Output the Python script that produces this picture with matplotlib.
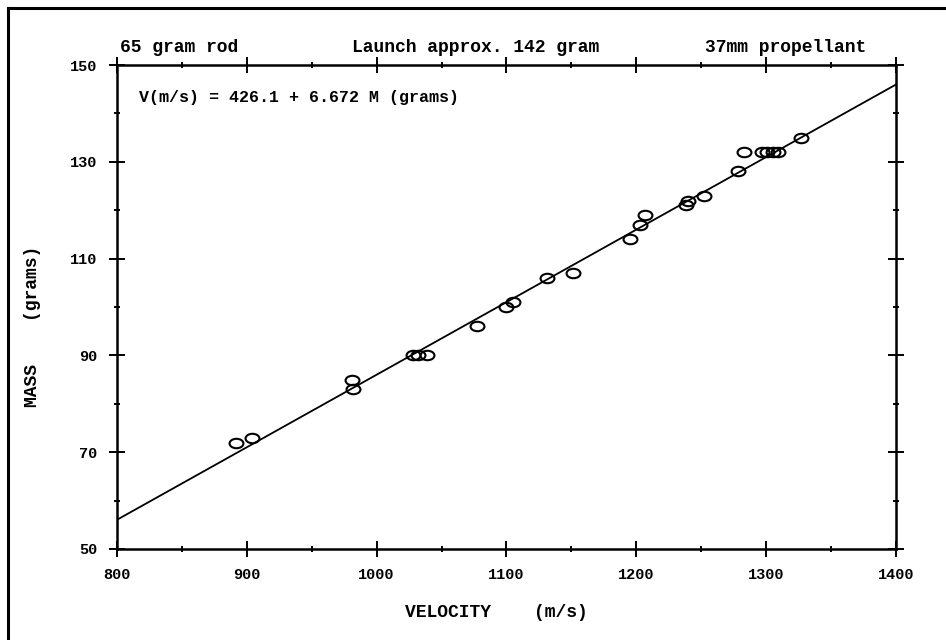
import numpy as np
import matplotlib.pyplot as plt
from matplotlib.path import Path
from matplotlib.transforms import Affine2D
from matplotlib.lines import Line2D
from matplotlib.ticker import MultipleLocator

# measured shots: velocity (m/s) and rod mass (grams)
velocity = [892, 904, 981, 982, 1028, 1032, 1039, 1077, 1100, 1105, 1131, 1151,
            1195, 1203, 1207, 1238, 1240, 1252, 1278, 1283, 1297, 1301, 1305, 1309, 1327]
mass = [72, 73, 85, 83, 90, 90, 90, 96, 100, 101, 106, 107,
        114, 117, 119, 121, 122, 123, 128, 132, 132, 132, 132, 132, 135]

# fit: V = a + b * M
fit_a = 426.1
fit_b = 6.672
fit_v = [800, 1400]

x_ticks = [800, 900, 1000, 1100, 1200, 1300, 1400]
y_ticks = [50, 70, 90, 110, 130, 150]

FONT = "Liberation Mono"

fig = plt.figure(figsize=(9.46, 6.40), dpi=100)
ax = fig.add_axes([0.1237, 0.1422, 0.8234, 0.7562])

# oval open markers like the plotter output
oval = Path.unit_circle().transformed(Affine2D().scale(1.0, 0.68))
ax.plot(velocity, mass, linestyle="none", marker=oval, markersize=10,
        markerfacecolor="none", markeredgecolor="black", markeredgewidth=1.5)

fit_m = [(v - fit_a) / fit_b for v in fit_v]
ax.plot(fit_v, fit_m, color="black", linewidth=1.3)

ax.set_xlim(800, 1400)
ax.set_ylim(50, 150)
ax.set_xticks(x_ticks)
ax.set_yticks(y_ticks)
ax.xaxis.set_minor_locator(MultipleLocator(50))
ax.yaxis.set_minor_locator(MultipleLocator(10))
ax.tick_params(which="major", direction="inout", length=12, width=1.4,
               top=True, right=True, labelsize=11, pad=8)
ax.tick_params(which="minor", direction="inout", length=5, width=1.4,
               top=True, right=True)
for lab in ax.get_xticklabels() + ax.get_yticklabels():
    lab.set_fontfamily(FONT)
    lab.set_fontweight("bold")
for sp in ax.spines.values():
    sp.set_linewidth(1.8)

ax.set_xlabel("VELOCITY    (m/s)", fontsize=13, fontfamily=FONT, fontweight="bold")
ax.set_ylabel("MASS    (grams)", fontsize=13, fontfamily=FONT, fontweight="bold")
ax.xaxis.set_label_coords(0.4865, -0.113)
ax.yaxis.set_label_coords(-0.097, 0.461)

# header line above the plot
hdr = dict(fontsize=13, fontfamily=FONT, fontweight="bold", ha="center", va="center")
fig.text(179 / 946, 1 - 48 / 640, "65 gram rod", **hdr)
fig.text(476 / 946, 1 - 48 / 640, "Launch approx. 142 gram", **hdr)
fig.text(786 / 946, 1 - 48 / 640, "37mm propellant", **hdr)

ax.text(0.028, 0.932, "V(m/s) = 426.1 + 6.672 M (grams)", transform=ax.transAxes,
        fontsize=12, fontfamily=FONT, fontweight="bold", ha="left", va="center")

# page border left by the scan
fig.add_artist(Line2D([8 / 946, 8 / 946], [0, 1 - 8 / 640], color="black", linewidth=2.2))
fig.add_artist(Line2D([8 / 946, 1], [1 - 8 / 640, 1 - 8 / 640], color="black", linewidth=2.2))

fig.savefig("out.png", dpi=100)
